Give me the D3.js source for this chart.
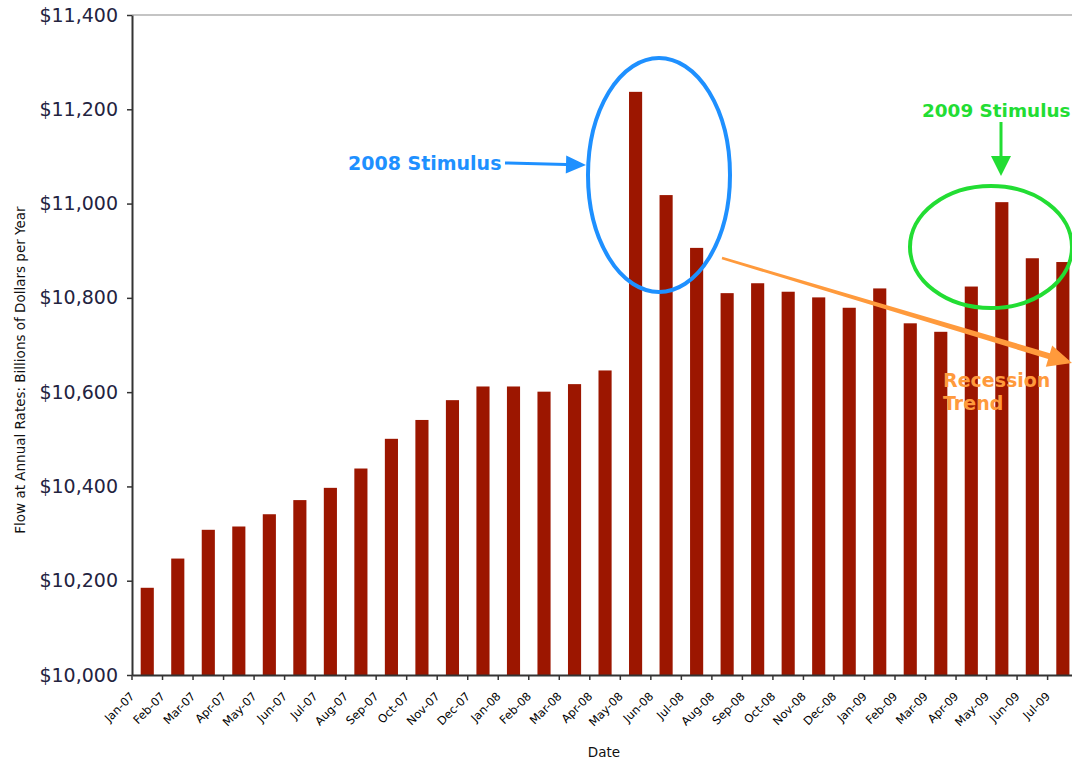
<!DOCTYPE html>
<html>
<head>
<meta charset="utf-8">
<script src="https://cdn.jsdelivr.net/npm/d3@7"></script>
<style>
  body { margin: 0; background: #fff; }
  svg { display: block; font-family: "DejaVu Sans", Verdana, sans-serif; }
</style>
</head>
<body>
<script>
// months on the x axis
var months = ["Jan-07","Feb-07","Mar-07","Apr-07","May-07","Jun-07","Jul-07","Aug-07","Sep-07","Oct-07","Nov-07","Dec-07",
  "Jan-08","Feb-08","Mar-08","Apr-08","May-08","Jun-08","Jul-08","Aug-08","Sep-08","Oct-08","Nov-08","Dec-08",
  "Jan-09","Feb-09","Mar-09","Apr-09","May-09","Jun-09","Jul-09"]

// billions of dollars per year (annual rate)
var income = [10185,10247,10308,10315,10341,10371,10397,10438,10501,10541,10583,10612,
  10612,10601,10617,10646,11237,11018,10906,10810,10831,10813,10801,10779,
  10820,10746,10728,10824,11003,10884,10876]

var yTicks = [10000,10200,10400,10600,10800,11000,11200,11400]

var chartW = 1072,
    chartH = 761,
    plotLeft = 132,
    plotTop = 15,
    plotBottom = 675,
    step = 30.52

var svg = d3.select("body")
  .append("svg")
  .attr("width", chartW)
  .attr("height", chartH)

var x = d3.scaleBand()
  .domain(months)
  .range([plotLeft, plotLeft + months.length * step])
  .paddingInner(0.57)
  .paddingOuter(0.285)

var y = d3.scaleLinear().domain([10000, 11400]).range([plotBottom, plotTop])

// top border
svg.append("line")
  .attr("x1", plotLeft).attr("x2", chartW)
  .attr("y1", plotTop).attr("y2", plotTop)
  .attr("stroke", "#c4c4c4")
  .attr("stroke-width", 2)

svg.selectAll(".bar")
  .data(months)
  .enter().append("rect")
  .attr("class", "bar")
  .attr("x", function(d) { return x(d) })
  .attr("y", function(d, i) { return y(income[i]) })
  .attr("width", x.bandwidth())
  .attr("height", function(d, i) { return plotBottom - y(income[i]) })
  .attr("fill", "#9c1600")

// y axis
var yAxis = svg.append("g")
  .attr("transform", "translate(" + plotLeft + ",0)")
  .call(d3.axisLeft(y)
    .tickValues(yTicks)
    .tickSize(5)
    .tickSizeOuter(0)
    .tickPadding(9)
    .tickFormat(function(d) { return "$" + d3.format(",")(d) }))

yAxis.select(".domain").attr("stroke", "#333").attr("stroke-width", 2)
yAxis.selectAll(".tick line").attr("stroke", "#333").attr("stroke-width", 1.5)
yAxis.selectAll(".tick text")
  .attr("font-size", 19)
  .attr("font-family", "DejaVu Sans, Verdana, sans-serif")
  .attr("fill", "#23233f")

// x axis
var xAxis = svg.append("g")
  .attr("transform", "translate(0," + plotBottom + ")")
  .call(d3.axisBottom(x).tickSize(0).tickSizeOuter(0).tickPadding(0))

xAxis.select(".domain").attr("stroke", "#333").attr("stroke-width", 2)
xAxis.selectAll(".tick text")
  .attr("y", 0)
  .attr("dy", 0)
  .attr("text-anchor", "end")
  .attr("transform", "translate(-12,22) rotate(-45)")
  .attr("font-size", 11.5)
  .attr("font-family", "DejaVu Sans, Verdana, sans-serif")
  .attr("fill", "#000")

// tick marks between the bars
var gap = (x.step() - x.bandwidth()) / 2
svg.selectAll(".xtick")
  .data(months)
  .enter().append("line")
  .attr("class", "xtick")
  .attr("x1", function(d) { return x(d) - gap })
  .attr("x2", function(d) { return x(d) - gap })
  .attr("y1", plotBottom)
  .attr("y2", plotBottom + 5)
  .attr("stroke", "#333")
  .attr("stroke-width", 1.5)

// axis titles
svg.append("text")
  .attr("transform", "translate(25,370) rotate(-90)")
  .attr("text-anchor", "middle")
  .attr("font-size", 13.5)
  .attr("fill", "#111")
  .text("Flow at Annual Rates: Billions of Dollars per Year")

svg.append("text")
  .attr("x", 604)
  .attr("y", 757)
  .attr("text-anchor", "middle")
  .attr("font-size", 13.5)
  .attr("fill", "#111")
  .text("Date")

// tapered arrow polygon
function arrow(x1, y1, x2, y2, w0, w1, headLen, headHalf) {
  var dx = x2 - x1, dy = y2 - y1
  var len = Math.sqrt(dx * dx + dy * dy)
  var ux = dx / len, uy = dy / len
  var nx = -uy, ny = ux
  var bx = x2 - ux * headLen, by = y2 - uy * headLen
  var p = [
    [x1 + nx * w0 / 2, y1 + ny * w0 / 2],
    [bx + nx * w1 / 2, by + ny * w1 / 2],
    [bx + nx * headHalf, by + ny * headHalf],
    [x2, y2],
    [bx - nx * headHalf, by - ny * headHalf],
    [bx - nx * w1 / 2, by - ny * w1 / 2],
    [x1 - nx * w0 / 2, y1 - ny * w0 / 2]
  ]
  return p.map(function(q) { return q.join(",") }).join(" ")
}

var blue = "#1e90ff",
    green = "#22dd33",
    orange = "#ff9a3c"

// 2008 stimulus
svg.append("ellipse")
  .attr("cx", 659).attr("cy", 175)
  .attr("rx", 71).attr("ry", 117)
  .attr("fill", "none")
  .attr("stroke", blue)
  .attr("stroke-width", 4)

svg.append("text")
  .attr("x", 348).attr("y", 170)
  .attr("font-size", 19)
  .attr("font-weight", "bold")
  .attr("fill", blue)
  .text("2008 Stimulus")

svg.append("polygon")
  .attr("points", arrow(505, 163, 586, 165, 3, 3, 20, 9))
  .attr("fill", blue)

// 2009 stimulus
svg.append("ellipse")
  .attr("cx", 991).attr("cy", 247)
  .attr("rx", 81).attr("ry", 61)
  .attr("fill", "none")
  .attr("stroke", green)
  .attr("stroke-width", 4)

svg.append("text")
  .attr("x", 922).attr("y", 117)
  .attr("font-size", 18.4)
  .attr("font-weight", "bold")
  .attr("fill", green)
  .text("2009 Stimulus")

svg.append("polygon")
  .attr("points", arrow(1001, 122, 1001, 176, 3, 3, 20, 10))
  .attr("fill", green)

// recession trend
svg.append("polygon")
  .attr("points", arrow(722, 258, 1072, 363, 2.5, 6, 24, 11))
  .attr("fill", orange)

svg.append("text")
  .attr("x", 943).attr("y", 387)
  .attr("font-size", 19)
  .attr("font-weight", "bold")
  .attr("fill", orange)
  .text("Recession")

svg.append("text")
  .attr("x", 943).attr("y", 410)
  .attr("font-size", 19)
  .attr("font-weight", "bold")
  .attr("fill", orange)
  .text("Trend")
</script>
</body>
</html>
